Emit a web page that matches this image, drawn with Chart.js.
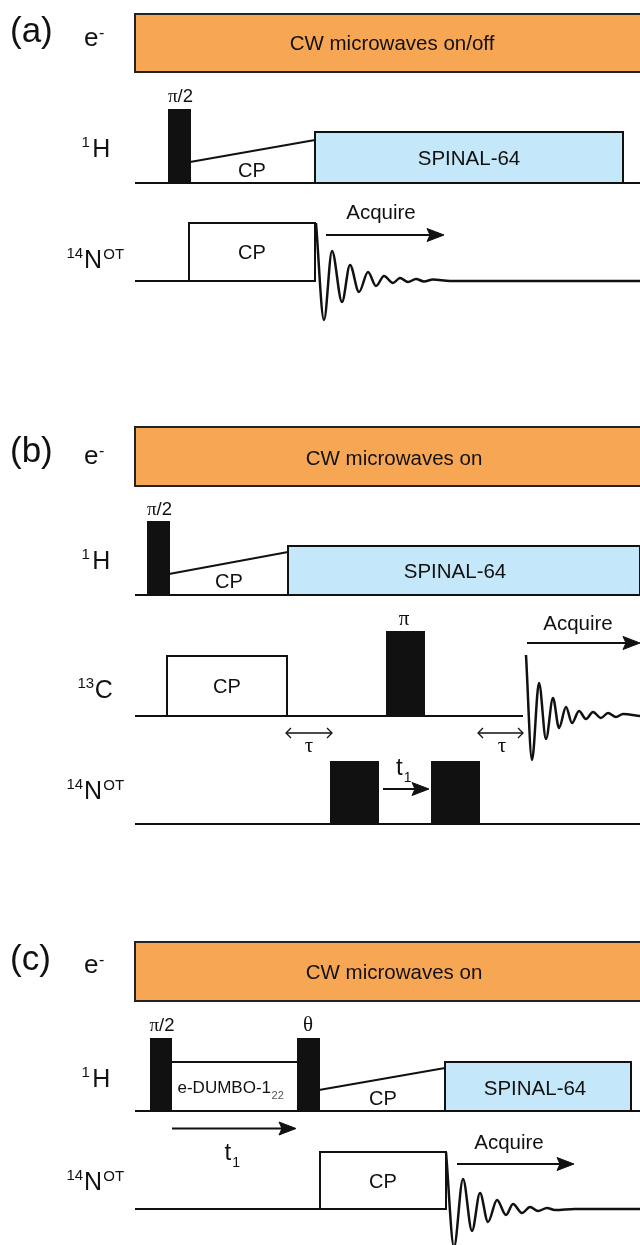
<!DOCTYPE html>
<html>
<head>
<meta charset="utf-8">
<script src="https://cdn.jsdelivr.net/npm/chart.js@4.4.1/dist/chart.umd.min.js"></script>
<style>html,body{margin:0;padding:0;background:#fff}canvas{display:block}</style>
</head>
<body>
<canvas id="c" width="640" height="1245" style="width:640px;height:1245px"></canvas>
<script>
// ================= DATA =================
// x: time units from the start of each sequence; amplitudes: height above channel baseline
// ---- Panel (a) ----
const aBase  = [72, 183, 281];            // rows: e-, 1H, 14N (baselines)
const aMW    = [0, 510, 58];              // [start, end, amplitude]
const aH90   = [34, 55, 73];
const aHramp = [55, 21, 180, 43];         // [t0, amp0, t1, amp1]
const aHdec  = [180, 488, 51];
const aNcp   = [54, 180, 58];
const aFidT  = [181,189,197,207,215,224,233,241,249,258,265,273,281,289,298,315,505];
const aFidA  = [58,-39,30,-21,16,-11,9,-5,5,-2,3,-1,2,-0.5,1.5,0,0];
const aAcq   = [191, 309, 46];            // [from, to, level]

// ---- Panel (b) ----
const bBase  = [486, 595, 716, 824];      // rows: e-, 1H, 13C, 14N
const bMW    = [0, 510, 59];
const bH90   = [13, 34, 73];
const bHramp = [34, 21, 153, 43];
const bHdec  = [153, 505, 49];
const bCcp   = [32, 152, 60];
const bC180  = [252, 289, 84];
const bCline = [0, 388];
const bFidT  = [391,397,404,411,418,424,431,437,444,451,458,466,473,481,488,505];
const bFidA  = [61,-44,33,-23,18,-12,9,-7,5,-3,4,-2,3,-1,2,0];
const bTau   = [[151, 197], [343, 388]];
const bTauLv = -17;
const bAcq   = [392, 505, 73];
const bN1    = [196, 243, 62];
const bN2    = [297, 344, 62];
const bT1    = [248, 294, 35];

// ---- Panel (c) ----
const cBase  = [1001, 1111, 1209];        // rows: e-, 1H, 14N
const cMW    = [0, 510, 59];
const cH90   = [16, 36, 72];
const cDumbo = [36, 163, 49];
const cTheta = [163, 184, 72];
const cHramp = [184, 21, 310, 43];
const cHdec  = [310, 496, 49];
const cT1    = [37, 161, -17.5];
const cNcp   = [185, 311, 57];
const cFidT  = [311,319,328,337,345,353,362,371,378,387,395,403,412,420,440,505];
const cFidA  = [57,-38,30,-22,16,-13,9,-6,5,-4,2,-2,1,-1,0,0];
const cAcq   = [322, 439, 45];

// ================= STYLE =================
const SANS = '"Liberation Sans", Arial, Helvetica, sans-serif';
const SERIF = '"Liberation Serif", "Times New Roman", serif';
const INK = '#111111';
const ORANGE = '#F7A654';
const BLUE = '#C4E7F9';
const WHITE = '#FFFFFF';
const HEAD_L = 17, HEAD_H = 6.5, HEAD_N = 3;

// ================= BUILD DATASETS =================
const DS = [];
function add(o) {
  DS.push(Object.assign({type:'line', fill:false, borderColor:INK, borderWidth:2,
    pointRadius:0, tension:0, borderJoinStyle:'miter', borderCapStyle:'butt'}, o));
}
function rectPts(t0, t1, amp, base) {
  const m = (t0 + t1) / 2, top = base - amp;
  return [{x:m,y:base},{x:t1,y:base},{x:t1,y:top},{x:t0,y:top},{x:t0,y:base},{x:m,y:base}];
}
function rect(p, base, bg, bc) {
  add({data: rectPts(p[0], p[1], p[2], base), fill:'shape', backgroundColor:bg, borderColor: bc || INK});
}
function seg(t0, y0, t1, y1, w) {
  add({data:[{x:t0,y:y0},{x:t1,y:y1}], borderWidth: w || 2});
}
function baseline(t0, t1, base) { seg(t0, base, t1, base); }
function ramp(r, base) { seg(r[0], base - r[1], r[2], base - r[3]); }
function fid(T, A, base) {
  add({data: T.map((t, i) => ({x:t, y: base - A[i]})), cubicInterpolationMode:'monotone',
       borderWidth:2.5, borderJoinStyle:'round'});
}
function arrow(a, base) {
  const y = base - a[2], t0 = a[0], t1 = a[1];
  seg(t0, y, t1 - HEAD_L + HEAD_N + 1, y);
  add({data:[{x:t1,y:y},{x:t1-HEAD_L,y:y-HEAD_H},{x:t1-HEAD_L+HEAD_N,y:y},{x:t1-HEAD_L,y:y+HEAD_H},{x:t1,y:y}],
       fill:'shape', backgroundColor:INK, borderWidth:1, borderJoinStyle:'round'});
}
function dblArrow(a, y) {
  const t0 = a[0], t1 = a[1], s = 5;
  seg(t0, y, t1, y, 1.3);
  add({data:[{x:t0+s,y:y-s},{x:t0,y:y},{x:t0+s,y:y+s}], borderWidth:1.3});
  add({data:[{x:t1-s,y:y-s},{x:t1,y:y},{x:t1-s,y:y+s}], borderWidth:1.3});
}

// Panel (a)
rect(aMW, aBase[0], ORANGE, '#222');
baseline(0, 505, aBase[1]);
baseline(0, aFidT[0], aBase[2]);
rect(aHdec, aBase[1], BLUE);
rect(aH90, aBase[1], INK);
ramp(aHramp, aBase[1]);
rect(aNcp, aBase[2], WHITE);
fid(aFidT, aFidA, aBase[2]);
arrow(aAcq, aBase[2]);

// Panel (b)
rect(bMW, bBase[0], ORANGE, '#222');
baseline(0, 505, bBase[1]);
baseline(bCline[0], bCline[1], bBase[2]);
baseline(0, 505, bBase[3]);
rect(bHdec, bBase[1], BLUE);
rect(bH90, bBase[1], INK);
ramp(bHramp, bBase[1]);
rect(bCcp, bBase[2], WHITE);
rect(bC180, bBase[2], INK);
fid(bFidT, bFidA, bBase[2]);
bTau.forEach(a => dblArrow(a, bBase[2] - bTauLv));
arrow(bAcq, bBase[2]);
rect(bN1, bBase[3], INK);
rect(bN2, bBase[3], INK);
arrow(bT1, bBase[3]);

// Panel (c)
rect(cMW, cBase[0], ORANGE, '#222');
baseline(0, 505, cBase[1]);
baseline(0, cFidT[0], cBase[2]);
rect(cDumbo, cBase[1], WHITE);
rect(cHdec, cBase[1], BLUE);
rect(cH90, cBase[1], INK);
rect(cTheta, cBase[1], INK);
ramp(cHramp, cBase[1]);
arrow(cT1, cBase[1]);
rect(cNcp, cBase[2], WHITE);
fid(cFidT, cFidA, cBase[2]);
arrow(cAcq, cBase[2]);

DS.forEach((d, i) => { d.order = -i; });

// ================= TEXT LABELS =================
// [t, y, align, pieces]  piece: [text, size, family, dy, dx, color]
const sup1H   = [['1',15,SANS,-10,0],['H',25,SANS,0,2.5]];
const sup14N  = [['14',15,SANS,-10,0],['N',25,SANS,0,0.8],['OT',15,SANS,-9,1.3]];
const supE    = [['e',26,SANS,0,0],['-',16,SANS,-8,0.5]];
const pi2     = [['\u03C0',19,SERIF],['/2',18.5,SANS]];
const t1lab   = [['t',24,SANS],['1',14,SANS,7,1]];
const TEXTS = [
  // (a)
  [-125, 42, 'left', [['(a)',35,SANS]]],
  [-51, 45.5, 'left', supE],
  [-53.5, 157, 'left', sup1H],
  [-68.5, 268, 'left', sup14N],
  [257, 50, 'center', [['CW microwaves on/off',20.5,SANS]]],
  [45.5, 102, 'center', pi2],
  [117, 177, 'center', [['CP',20,SANS]]],
  [334, 165, 'center', [['SPINAL-64',20.5,SANS]]],
  [117, 259, 'center', [['CP',20,SANS]]],
  [246, 219, 'center', [['Acquire',20.5,SANS]]],
  // (b)
  [-125, 461.5, 'left', [['(b)',35,SANS]]],
  [-51, 464, 'left', supE],
  [-53.5, 569, 'left', sup1H],
  [-57.5, 698, 'left', [['13',15,SANS,-10,0],['C',25,SANS,0,0.5]]],
  [-68.5, 799, 'left', sup14N],
  [259, 465, 'center', [['CW microwaves on',20.5,SANS]]],
  [24.5, 515, 'center', pi2],
  [94, 588, 'center', [['CP',20,SANS]]],
  [320, 578, 'center', [['SPINAL-64',20.5,SANS]]],
  [92, 693, 'center', [['CP',20,SANS]]],
  [269, 625, 'center', [['\u03C0',21,SERIF]]],
  [174, 752, 'center', [['\u03C4',21,SERIF]]],
  [367, 752, 'center', [['\u03C4',21,SERIF]]],
  [443, 630, 'center', [['Acquire',20.5,SANS]]],
  [261, 775, 'left', t1lab],
  // (c)
  [-125, 970, 'left', [['(c)',35,SANS]]],
  [-51, 973, 'left', supE],
  [-53.5, 1087, 'left', sup1H],
  [-68.5, 1190, 'left', sup14N],
  [259, 979, 'center', [['CW microwaves on',20.5,SANS]]],
  [27, 1031, 'center', pi2],
  [173, 1031, 'center', [['\u03B8',21,SERIF]]],
  [42.5, 1093, 'left', [['e-DUMBO-1',17,SANS],['22',11,SANS,6,0.5,'#555']]],
  [248, 1105, 'center', [['CP',20,SANS]]],
  [400, 1095, 'center', [['SPINAL-64',20.5,SANS]]],
  [89.5, 1160, 'left', t1lab],
  [248, 1188, 'center', [['CP',20,SANS]]],
  [374, 1149, 'center', [['Acquire',20.5,SANS]]]
];

const textPlugin = {
  id: 'seqTexts',
  afterDatasetsDraw(chart) {
    const ctx = chart.ctx, xs = chart.scales.x, ys = chart.scales.y;
    ctx.save();
    ctx.textBaseline = 'alphabetic';
    ctx.textAlign = 'left';
    TEXTS.forEach(([t, y, align, pieces]) => {
      const px = xs.getPixelForValue(t), py = ys.getPixelForValue(y);
      let total = 0;
      pieces.forEach(p => { ctx.font = p[1] + 'px ' + p[2]; total += ctx.measureText(p[0]).width + (p[4] || 0); });
      let x = align === 'center' ? px - total / 2 : px;
      pieces.forEach(p => {
        ctx.font = p[1] + 'px ' + p[2];
        ctx.fillStyle = p[5] || INK;
        x += (p[4] || 0);
        ctx.fillText(p[0], x, py + (p[3] || 0));
        x += ctx.measureText(p[0]).width;
      });
    });
    ctx.restore();
  }
};

new Chart(document.getElementById('c'), {
  type: 'line',
  data: { datasets: DS },
  options: {
    responsive: false,
    animation: false,
    events: [],
    devicePixelRatio: 1,
    layout: { padding: 0, autoPadding: false },
    plugins: { legend: { display: false }, tooltip: { enabled: false } },
    scales: {
      x: { type: 'linear', min: -135, max: 505, display: false },
      y: { type: 'linear', min: 0, max: 1245, reverse: true, display: false }
    }
  },
  plugins: [textPlugin]
});
</script>
</body>
</html>
